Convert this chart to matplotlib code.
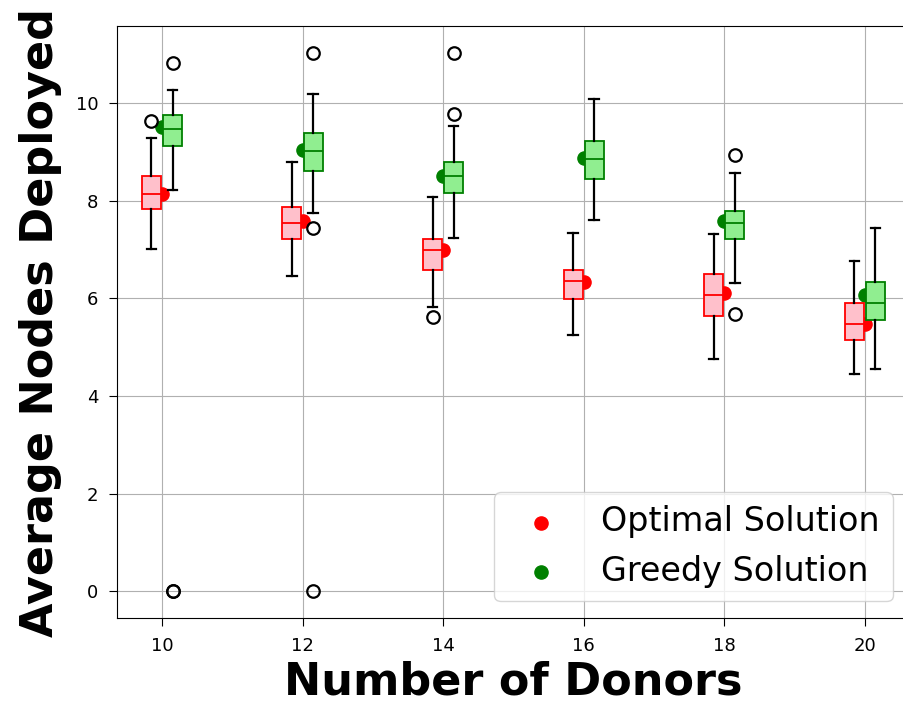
import matplotlib.pyplot as plt

# Data
donors = [10, 12, 14, 16, 18, 20]

# Optimal solution box stats
opt_q1 = [7.84, 7.21, 6.59, 5.99, 5.64, 5.14]
opt_med = [8.13, 7.55, 6.99, 6.35, 6.07, 5.48]
opt_q3 = [8.50, 7.88, 7.21, 6.59, 6.49, 5.91]
opt_lo = [7.02, 6.45, 5.83, 5.25, 4.75, 4.46]
opt_hi = [9.29, 8.80, 8.08, 7.35, 7.32, 6.76]
opt_fliers = [[9.63], [], [5.62], [], [], []]
opt_mean = [8.13, 7.58, 7.00, 6.34, 6.11, 5.47]

# Greedy solution box stats
gr_q1 = [9.12, 8.61, 8.17, 8.44, 7.21, 5.55]
gr_med = [9.48, 9.03, 8.50, 8.86, 7.55, 5.91]
gr_q3 = [9.75, 9.38, 8.79, 9.22, 7.80, 6.33]
gr_lo = [8.23, 7.74, 7.24, 7.60, 6.31, 4.56]
gr_hi = [10.27, 10.18, 9.54, 10.08, 8.56, 7.44]
gr_fliers = [[10.83, 0, 0], [11.03, 7.45, 0], [9.78, 11.03], [], [8.93, 5.67], []]
gr_mean = [9.52, 9.05, 8.50, 8.87, 7.58, 6.06]


def make_stats(q1, med, q3, lo, hi, fl):
    return [dict(q1=a, med=b, q3=c, whislo=d, whishi=e, fliers=f)
            for a, b, c, d, e, f in zip(q1, med, q3, lo, hi, fl)]


fig = plt.figure(figsize=(9.04, 7.03), dpi=100)
ax = fig.add_axes([0.1294, 0.1209, 0.877, 0.842])

flier = dict(marker='o', markerfacecolor='none', markeredgecolor='black',
             markersize=9, markeredgewidth=1.6)
wh = dict(color='black', linewidth=1.6)

ax.bxp(make_stats(opt_q1, opt_med, opt_q3, opt_lo, opt_hi, opt_fliers),
       positions=[d - 0.15 for d in donors], widths=0.27, patch_artist=True,
       boxprops=dict(facecolor='pink', edgecolor='red', linewidth=1.3),
       medianprops=dict(color='red', linewidth=1.3),
       whiskerprops=wh, capprops=wh, flierprops=flier,
       manage_ticks=False, zorder=3)
ax.bxp(make_stats(gr_q1, gr_med, gr_q3, gr_lo, gr_hi, gr_fliers),
       positions=[d + 0.15 for d in donors], widths=0.27, patch_artist=True,
       boxprops=dict(facecolor='lightgreen', edgecolor='green', linewidth=1.3),
       medianprops=dict(color='green', linewidth=1.3),
       whiskerprops=wh, capprops=wh, flierprops=flier,
       manage_ticks=False, zorder=3)

ax.scatter(donors, opt_mean, color='red', s=90, label='Optimal Solution', zorder=2)
ax.scatter(donors, gr_mean, color='green', s=90, label='Greedy Solution', zorder=2)

ax.set_xticks(donors)
ax.set_xticklabels([str(d) for d in donors])
ax.set_xlim(9.36, 20.64)
ax.tick_params(labelsize=13, length=5.5, pad=8)
ax.grid(True, zorder=0)
ax.set_axisbelow(True)

ax.set_xlabel("Number of Donors", fontsize=32, fontweight='bold')
ax.set_ylabel("Average Nodes Deployed", fontsize=32, fontweight='bold', labelpad=10)
ax.legend(loc='lower right', fontsize=24)

plt.savefig("out.png", dpi=100)
